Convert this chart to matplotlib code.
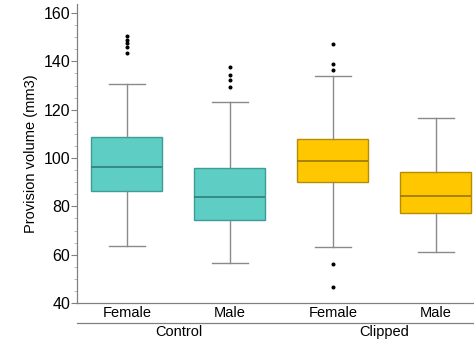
import matplotlib.pyplot as plt
from matplotlib.ticker import MultipleLocator

plt.rcParams['font.family'] = ['Liberation Sans', 'DejaVu Sans']

groups = ['Control', 'Clipped']
sexes = ['Female', 'Male', 'Female', 'Male']
# whislo, q1, median, q3, whishi
whislo = [63.6, 56.4, 63.3, 61.0]
q1 = [86.4, 74.2, 90.1, 77.1]
med = [96.3, 83.9, 98.9, 84.4]
q3 = [108.8, 95.7, 107.7, 94.2]
whishi = [130.8, 123.1, 134.1, 116.4]
fliers = [
    [150.5, 149.0, 147.8, 146.0, 143.5],
    [137.5, 134.3, 132.3, 129.6],
    [147.0, 139.0, 136.5, 56.3, 46.8],
    [],
]
fills = ['#5ecdc4', '#5ecdc4', '#ffc700', '#ffc700']
edges = ['#3e9c96', '#3e9c96', '#b58d00', '#b58d00']
medcols = ['#2e7f79', '#2e7f79', '#9a7600', '#9a7600']

stats = []
for i in range(4):
    stats.append(dict(whislo=whislo[i], q1=q1[i], med=med[i], q3=q3[i],
                      whishi=whishi[i], fliers=fliers[i]))

fig = plt.figure(figsize=(4.74, 3.42), dpi=100)
ax = fig.add_axes([0.1624, 0.114, 0.8376, 0.874])

pos = [1, 2, 3, 4]
for i in range(4):
    ax.bxp([stats[i]], positions=[pos[i]], widths=0.69, patch_artist=True,
           boxprops=dict(facecolor=fills[i], edgecolor=edges[i], linewidth=1.0),
           medianprops=dict(color=medcols[i], linewidth=1.2),
           whiskerprops=dict(color='#8a8a8a', linewidth=1.0),
           capprops=dict(color='#8a8a8a', linewidth=1.0),
           flierprops=dict(marker='o', markersize=1.9, markerfacecolor='black',
                           markeredgecolor='black', linestyle='none'))

ax.set_xlim(0.515, 4.37)
ax.set_ylim(40, 163.7)
ax.yaxis.set_major_locator(MultipleLocator(20))
ax.yaxis.set_minor_locator(MultipleLocator(5))
ax.tick_params(axis='y', which='major', length=4, color='#808080', labelsize=11.5, pad=1)
ax.tick_params(axis='y', which='minor', length=2, color='#b0b0b0')
ax.tick_params(axis='x', length=0, labelsize=10.5, pad=2)
ax.set_xticks(pos)
ax.set_xticklabels(sexes)
ax.set_ylabel('Provision volume (mm3)', fontsize=10.5, labelpad=4)

for side in ['top', 'right']:
    ax.spines[side].set_visible(False)
for side in ['left', 'bottom']:
    ax.spines[side].set_color('#808080')
    ax.spines[side].set_linewidth(0.9)

# group brackets under tick labels
trans = ax.get_xaxis_transform()
for j, g in enumerate(groups):
    x0 = 0.515 if j == 0 else 2.5
    x1 = 2.49 if j == 0 else 4.37
    ax.plot([x0, x1], [-0.066, -0.066], color='#808080', lw=0.9,
            transform=trans, clip_on=False)
    ax.text(2 * j + 1.5, -0.075, g, transform=trans, ha='center', va='top',
            fontsize=10.5)

fig.savefig('out.png', dpi=100)
